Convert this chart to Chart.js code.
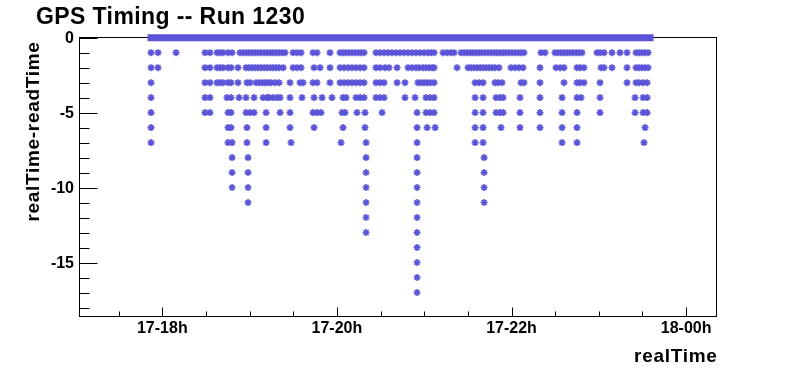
<!DOCTYPE html>
<html><head><meta charset="utf-8">
<script src="https://cdn.jsdelivr.net/npm/chart.js@4"></script>
<style>html,body{margin:0;padding:0;background:#fff;overflow:hidden}#wrap{position:relative;width:796px;height:372px}</style>
</head><body><div id="wrap"><canvas id="c" width="796" height="372" style="width:796px;height:372px"></canvas></div>
<script>
// ---- texts ----
const chartTitle = 'GPS Timing -- Run 1230';
const xAxisTitle = 'realTime';
const yAxisTitle = 'realTime-readTime';

// ---- axis ticks (x in hours of day 17; 24 = 18-00h) ----
const xLabelTicks = [18, 20, 22, 24];
const xTickLabels = ['17-18h', '17-20h', '17-22h', '18-00h'];
const xMinorTicks = [17.5, 18.5, 19, 19.5, 20.5, 21, 21.5, 22.5, 23, 23.5];
const yLabelTicks = [0, -5, -10, -15];
const yTickLabels = ['0', '-5', '-10', '-15'];
const yMinorTicks = [-1, -2, -3, -4, -6, -7, -8, -9, -11, -12, -13, -14, -16, -17, -18];
const xRange = [17.0515, 24.348];
const yRange = [-18.6, 0.01];

// ---- data: realTime (hours) of the samples, per value of realTime-readTime ----
const zeroRun = [17.871, 23.587]; // first and last sample of the continuous run at 0
const dtMinus1 = [17.871, 17.951, 18.157, 18.489, 18.546, 18.627, 18.661, 18.695, 18.753, 18.799, 18.890, 18.925, 18.959, 18.993, 19.028, 19.062, 19.097, 19.131, 19.166, 19.200, 19.234, 19.269, 19.303, 19.338, 19.372, 19.406, 19.498, 19.544, 19.589, 19.726, 19.772, 19.921, 20.036, 20.070, 20.105, 20.139, 20.173, 20.208, 20.242, 20.276, 20.311, 20.448, 20.494, 20.540, 20.585, 20.631, 20.677, 20.723, 20.769, 20.815, 20.860, 20.906, 20.952, 20.998, 21.044, 21.079, 21.113, 21.216, 21.262, 21.307, 21.342, 21.422, 21.457, 21.491, 21.525, 21.560, 21.594, 21.628, 21.663, 21.697, 21.731, 21.766, 21.800, 21.834, 21.868, 21.903, 21.937, 21.972, 22.006, 22.040, 22.075, 22.109, 22.143, 22.338, 22.384, 22.498, 22.533, 22.567, 22.601, 22.636, 22.670, 22.704, 22.739, 22.773, 22.807, 22.979, 23.014, 23.060, 23.151, 23.243, 23.323, 23.426, 23.461, 23.495, 23.530, 23.564];
const dtMinus2 = [17.871, 17.951, 18.489, 18.546, 18.627, 18.661, 18.695, 18.753, 18.787, 18.867, 18.959, 18.993, 19.028, 19.062, 19.097, 19.131, 19.166, 19.200, 19.234, 19.269, 19.303, 19.338, 19.384, 19.498, 19.544, 19.589, 19.738, 19.807, 19.921, 20.036, 20.082, 20.128, 20.173, 20.219, 20.265, 20.311, 20.448, 20.494, 20.551, 20.597, 20.689, 20.815, 20.860, 20.906, 20.941, 20.987, 21.021, 21.056, 21.090, 21.113, 21.376, 21.502, 21.537, 21.571, 21.606, 21.640, 21.674, 21.708, 21.743, 21.777, 21.811, 21.857, 21.994, 22.040, 22.086, 22.132, 22.326, 22.510, 22.556, 22.601, 22.750, 22.785, 22.830, 23.025, 23.060, 23.151, 23.323, 23.426, 23.461, 23.495, 23.530, 23.564];
const dtMinus3 = [17.871, 18.489, 18.546, 18.627, 18.661, 18.695, 18.753, 18.787, 18.867, 18.970, 19.005, 19.074, 19.108, 19.143, 19.177, 19.211, 19.246, 19.292, 19.338, 19.463, 19.577, 19.612, 19.726, 19.772, 19.921, 20.036, 20.082, 20.128, 20.173, 20.219, 20.265, 20.311, 20.448, 20.494, 20.540, 20.689, 20.780, 20.929, 20.964, 20.998, 21.033, 21.067, 21.113, 21.583, 21.628, 21.674, 21.811, 21.846, 21.891, 22.109, 22.143, 22.326, 22.601, 22.750, 22.785, 22.830, 23.014, 23.323, 23.426, 23.461, 23.507, 23.553];
const dtMinus4 = [17.871, 18.489, 18.546, 18.741, 18.787, 18.879, 18.959, 19.051, 19.154, 19.200, 19.223, 19.269, 19.315, 19.349, 19.463, 19.600, 19.738, 19.830, 19.944, 20.070, 20.105, 20.219, 20.265, 20.311, 20.448, 20.494, 20.540, 20.780, 20.895, 21.021, 21.067, 21.113, 21.583, 21.674, 21.823, 21.868, 21.903, 22.097, 22.326, 22.579, 22.750, 22.796, 23.014, 23.415, 23.507, 23.553];
const dtMinus5 = [17.871, 18.489, 18.546, 18.753, 18.787, 18.959, 19.005, 19.051, 19.189, 19.349, 19.463, 19.726, 19.772, 19.818, 20.059, 20.093, 20.230, 20.322, 20.517, 20.918, 21.021, 21.067, 21.113, 21.583, 21.674, 21.823, 21.868, 21.903, 22.097, 22.326, 22.579, 22.750, 23.014, 23.415, 23.507, 23.553];
const dtMinus6 = [17.871, 18.753, 18.787, 18.970, 19.189, 19.463, 19.738, 20.070, 20.322, 20.918, 21.033, 21.125, 21.583, 21.674, 21.880, 22.097, 22.326, 22.579, 22.750, 23.530];
const dtMinus7 = [17.871, 18.753, 18.799, 18.970, 19.189, 19.475, 20.047, 20.334, 20.918, 21.583, 21.674, 22.579, 22.750, 23.518];
const dtMinus8 = [18.799, 18.982, 20.334, 20.918, 21.686];
const dtMinus9 = [18.799, 18.982, 20.334, 20.918, 21.686];
const dtMinus10 = [18.799, 18.982, 20.334, 20.918, 21.686];
const dtMinus11 = [18.982, 20.334, 20.918, 21.686];
const dtMinus12 = [20.334, 20.918];
const dtMinus13 = [20.334, 20.918];
const dtMinus14 = [20.918];
const dtMinus15 = [20.918];
const dtMinus16 = [20.918];
const dtMinus17 = [20.918];

const rows = [
  [-1, dtMinus1], [-2, dtMinus2], [-3, dtMinus3], [-4, dtMinus4], [-5, dtMinus5],
  [-6, dtMinus6], [-7, dtMinus7], [-8, dtMinus8], [-9, dtMinus9], [-10, dtMinus10],
  [-11, dtMinus11], [-12, dtMinus12], [-13, dtMinus13], [-14, dtMinus14], [-15, dtMinus15],
  [-16, dtMinus16], [-17, dtMinus17]
];
const points = [];
for (const [dy, xs] of rows) for (const t of xs) points.push({x: t, y: dy});

const markerColor = '#5a54d8';
const FONT = '"Liberation Sans", Arial, Helvetica, sans-serif';

const rootAxes = {
  id: 'rootAxes',
  beforeDatasetsDraw(chart) {
    const {ctx, chartArea: a, scales: {x, y}} = chart;
    ctx.save();
    ctx.strokeStyle = '#000';
    ctx.lineWidth = 1;
    ctx.strokeRect(a.left, a.top, a.right - a.left, a.bottom - a.top);
    ctx.beginPath();
    const px = v => Math.round(x.getPixelForValue(v)) + 0.5;
    const py = v => Math.round(y.getPixelForValue(v)) + 0.5;
    for (const v of xLabelTicks) { const p = px(v); ctx.moveTo(p, a.bottom); ctx.lineTo(p, a.bottom - 9); }
    for (const v of xMinorTicks) { const p = px(v); ctx.moveTo(p, a.bottom); ctx.lineTo(p, a.bottom - 5); }
    for (const v of yLabelTicks) { const p = py(v); ctx.moveTo(a.left, p); ctx.lineTo(a.left + 18, p); }
    for (const v of yMinorTicks) { const p = py(v); ctx.moveTo(a.left, p); ctx.lineTo(a.left + 10, p); }
    ctx.stroke();
    ctx.restore();
  },
  afterDraw(chart) {
    const {ctx, chartArea: a, scales: {x, y}} = chart;
    ctx.save();
    ctx.fillStyle = '#000';
    ctx.font = 'bold 23px ' + FONT;
    ctx.letterSpacing = '0.4px';
    ctx.textAlign = 'left';
    ctx.textBaseline = 'alphabetic';
    ctx.fillText(chartTitle, 36, 24);
    ctx.font = 'bold 16px ' + FONT;
    ctx.letterSpacing = '0px';
    ctx.textAlign = 'center';
    xLabelTicks.forEach((v, i) => ctx.fillText(xTickLabels[i], x.getPixelForValue(v), 333));
    ctx.textAlign = 'right';
    ctx.textBaseline = 'middle';
    yLabelTicks.forEach((v, i) => ctx.fillText(yTickLabels[i], 74, y.getPixelForValue(v) + 1));
    ctx.font = 'bold 19px ' + FONT;
    ctx.letterSpacing = '0.7px';
    ctx.textAlign = 'right';
    ctx.textBaseline = 'alphabetic';
    ctx.fillText(xAxisTitle, a.right + 1, 362);
    ctx.translate(39, 131.5);
    ctx.rotate(-Math.PI / 2);
    ctx.textAlign = 'center';
    ctx.fillText(yAxisTitle, 0, 0);
    ctx.restore();
  }
};

new Chart(document.getElementById('c'), {
  type: 'scatter',
  data: {
    datasets: [
      {
        type: 'line',
        data: zeroRun.map(t => ({x: t, y: 0})),
        borderColor: markerColor,
        borderWidth: 7,
        borderCapStyle: 'square',
        pointRadius: 0,
        clip: false
      },
      {
        data: points,
        pointStyle: 'star',
        pointRadius: 3.5,
        pointBorderWidth: 1.6,
        borderColor: markerColor,
        backgroundColor: markerColor,
        clip: false
      }
    ]
  },
  options: {
    responsive: false,
    animation: false,
    devicePixelRatio: 1,
    events: [],
    layout: {padding: {left: 79.5, top: 37.5, right: 79.5, bottom: 55.5}},
    plugins: {legend: {display: false}, title: {display: false}, tooltip: {enabled: false}},
    scales: {
      x: {type: 'linear', display: false, min: xRange[0], max: xRange[1]},
      y: {type: 'linear', display: false, min: yRange[0], max: yRange[1]}
    }
  },
  plugins: [rootAxes]
});
</script>
</body></html>
